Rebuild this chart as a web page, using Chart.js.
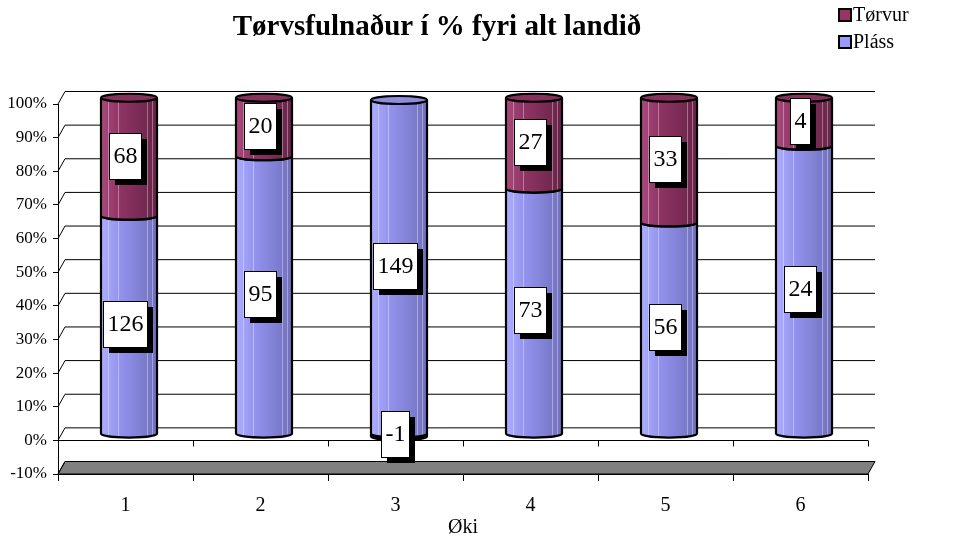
<!DOCTYPE html>
<html lang="fo">

<head>
    <meta charset="UTF-8" />
    <title>Tørvsfulnaður í % fyri alt landið</title>
    <script src="https://cdn.jsdelivr.net/npm/chart.js"></script>
    <style>
        body {
            margin: 0;
            background: #fff;
        }

        #wrap {
            width: 957px;
            height: 559px;
        }
    </style>
</head>

<body>
    <div id="wrap"><canvas id="chart" width="957" height="559"></canvas></div>

    <script>
        // data
        const categories = ['1', '2', '3', '4', '5', '6'];
        const plass = [126, 95, 149, 73, 56, 24];
        const torvur = [68, 20, -1, 27, 33, 4];
        const yMin = -10, yMax = 100, yStep = 10;

        const serif = '"Liberation Serif", "Times New Roman", serif';
        const DX = 7, DY = -12.5;   // depth of the 3d box

        // 100% stacked like excel: share of the sum of absolute values
        const share = (arr) => arr.map((v, i) => v / (Math.abs(plass[i]) + Math.abs(torvur[i])) * 100);

        const looks = {
            plass: { light: '#adadff', mid: '#9292ee', dark: '#7070bc', top: '#8c8ce0', legend: '#9999ff' },
            torvur: { light: '#a84a7c', mid: '#8e3363', dark: '#682448', top: '#86305c', legend: '#993366' }
        };

        function drawSegment(ctx, s) {
            const { cx, rx, top, bottom, look } = s;
            const ry = 4;
            const g = ctx.createLinearGradient(cx - rx, 0, cx + rx, 0);
            g.addColorStop(0, look.light);
            g.addColorStop(0.35, look.mid);
            g.addColorStop(1, look.dark);

            ctx.beginPath();
            ctx.moveTo(cx - rx, top);
            ctx.lineTo(cx - rx, bottom);
            ctx.ellipse(cx, bottom, rx, ry, 0, Math.PI, 0, true);
            ctx.lineTo(cx + rx, top);
            ctx.ellipse(cx, top, rx, ry, 0, 0, Math.PI, true);
            ctx.closePath();
            ctx.fillStyle = g;
            ctx.fill();

            // faint highlights
            ctx.strokeStyle = 'rgba(255,255,255,0.35)';
            ctx.lineWidth = 1;
            [0.13, 0.31, 0.82, 0.91].forEach(f => {
                const lx = Math.round(cx - rx + f * 2 * rx) + 0.5;
                ctx.beginPath();
                ctx.moveTo(lx, top);
                ctx.lineTo(lx, bottom + ry * 0.8);
                ctx.stroke();
            });

            ctx.beginPath();
            ctx.ellipse(cx, top, rx, ry, 0, 0, Math.PI * 2);
            ctx.fillStyle = look.top;
            ctx.fill();

            ctx.strokeStyle = '#000';
            ctx.lineWidth = 2.2;
            ctx.beginPath();
            ctx.moveTo(cx - rx, top);
            ctx.lineTo(cx - rx, bottom);
            ctx.ellipse(cx, bottom, rx, ry, 0, Math.PI, 0, true);
            ctx.lineTo(cx + rx, top);
            ctx.stroke();
            ctx.beginPath();
            ctx.ellipse(cx, top, rx, ry, 0, 0, Math.PI * 2);
            ctx.stroke();
        }

        const box3d = {
            id: 'box3d',
            beforeDatasetsDraw(chart) {
                const { ctx, chartArea: a, scales: { x, y } } = chart;
                ctx.save();
                ctx.lineWidth = 1;
                ctx.strokeStyle = '#000';

                // grey floor at the bottom
                const yF = y.getPixelForValue(yMin);
                ctx.fillStyle = '#808080';
                ctx.beginPath();
                ctx.moveTo(a.left, yF);
                ctx.lineTo(a.left + DX, yF + DY);
                ctx.lineTo(a.right + DX, yF + DY);
                ctx.lineTo(a.right, yF);
                ctx.closePath();
                ctx.fill();
                ctx.stroke();

                // side wall + back wall grid
                y.ticks.forEach(t => {
                    const py = y.getPixelForValue(t.value);
                    ctx.beginPath();
                    ctx.moveTo(a.left, py);
                    ctx.lineTo(a.left + DX, py + DY);
                    if (t.value >= 0) ctx.lineTo(a.right + DX, py + DY);
                    ctx.stroke();
                });

                // category axis at 0
                const y0 = Math.round(y.getPixelForValue(0)) + 0.5;
                ctx.beginPath();
                ctx.moveTo(a.left, y0);
                ctx.lineTo(a.right, y0);
                const step = x.getPixelForValue(1) - x.getPixelForValue(0);
                for (let i = 0; i <= categories.length; i++) {
                    const px = Math.round(x.getPixelForValue(0) - step / 2 + i * step) + 0.5;
                    ctx.moveTo(px, y0);
                    ctx.lineTo(px, y0 + 6);
                }
                ctx.stroke();
                ctx.restore();
            },
            afterDatasetsDraw(chart) {
                const { ctx } = chart;
                ctx.save();
                // cylinders, lowest piece first
                for (let i = 0; i < categories.length; i++) {
                    const segs = chart.data.datasets.map((ds, d) => {
                        const el = chart.getDatasetMeta(d).data[i];
                        return {
                            cx: el.x + DX / 2,
                            rx: el.width / 2,
                            top: Math.min(el.y, el.base) + DY / 2,
                            bottom: Math.max(el.y, el.base) + DY / 2,
                            look: ds.look
                        };
                    });
                    segs.sort((p, q) => q.bottom - p.bottom);
                    segs.forEach(s => drawSegment(ctx, s));
                }

                // value boxes
                ctx.font = '24px ' + serif;
                ctx.textAlign = 'center';
                ctx.textBaseline = 'middle';
                chart.data.datasets.forEach((ds, d) => {
                    chart.getDatasetMeta(d).data.forEach((el, i) => {
                        const txt = String(ds.raw[i]);
                        const cx = el.x - 1;
                        const cy = (el.y + el.base) / 2 + DY / 2 - 1;
                        const w = Math.round(ctx.measureText(txt).width + 8), h = 46;
                        const bx = Math.round(cx - w / 2), by = Math.round(cy - h / 2);
                        ctx.fillStyle = '#000';
                        ctx.fillRect(bx + 6, by + 6, w, h);
                        ctx.fillStyle = '#fff';
                        ctx.fillRect(bx, by, w, h);
                        ctx.strokeStyle = '#000';
                        ctx.lineWidth = 1;
                        ctx.strokeRect(bx + 0.5, by + 0.5, w, h);
                        ctx.fillStyle = '#000';
                        ctx.fillText(txt, bx + w / 2 + 0.5, by + h / 2 + 1);
                    });
                });
                ctx.restore();
            },
            afterDraw(chart) {
                const { ctx } = chart;
                ctx.save();
                ctx.fillStyle = '#000';
                ctx.textBaseline = 'alphabetic';
                ctx.textAlign = 'center';
                ctx.font = 'bold 29px ' + serif;
                ctx.fillText('Tørvsfulnaður í % fyri alt landið', 437, 35);

                // legend, top series first
                ctx.textAlign = 'left';
                ctx.textBaseline = 'middle';
                ctx.font = '20px ' + serif;
                const items = chart.data.datasets.slice().reverse();
                items.forEach((ds, k) => {
                    const cy = 15 + k * 27;
                    ctx.fillStyle = ds.look.legend;
                    ctx.fillRect(839, cy - 6, 12, 12);
                    ctx.strokeStyle = '#000';
                    ctx.lineWidth = 2;
                    ctx.strokeRect(839, cy - 6, 12, 12);
                    ctx.fillStyle = '#000';
                    ctx.fillText(ds.label, 853, cy + 1);
                });
                ctx.restore();
            }
        };

        const tickFont = { family: serif, size: 17 };
        const catFont = { family: serif, size: 20 };

        new Chart(document.getElementById('chart'), {
            type: 'bar',
            data: {
                labels: categories,
                datasets: [
                    { label: 'Pláss', data: share(plass), raw: plass, look: looks.plass },
                    { label: 'Tørvur', data: share(torvur), raw: torvur, look: looks.torvur }
                ].map(ds => Object.assign(ds, {
                    backgroundColor: 'rgba(0,0,0,0)',
                    borderWidth: 0,
                    categoryPercentage: 1,
                    barPercentage: 0.415
                }))
            },
            plugins: [box3d],
            options: {
                responsive: false,
                devicePixelRatio: 1,
                animation: false,
                layout: { padding: { top: 104, right: 89, left: 0, bottom: 0 } },
                plugins: { legend: { display: false }, tooltip: { enabled: false }, title: { display: false } },
                scales: {
                    x: {
                        stacked: true,
                        ticks: { color: '#000', font: catFont, padding: 13 },
                        grid: { offset: true, drawOnChartArea: false, tickLength: 7, tickColor: '#000' },
                        border: { display: true, color: '#000' },
                        title: { display: true, text: 'Øki', color: '#000', font: catFont, padding: { top: 0, bottom: 19 } },
                        afterFit: s => { s.height = 85; }
                    },
                    y: {
                        stacked: true,
                        min: yMin,
                        max: yMax,
                        ticks: { stepSize: yStep, callback: v => v + '%', color: '#000', font: tickFont, padding: 6 },
                        grid: { drawOnChartArea: false, tickLength: 5, tickColor: '#000' },
                        border: { display: true, color: '#000' },
                        afterFit: s => { s.width = 58; }
                    }
                }
            }
        });
    </script>
</body>

</html>
